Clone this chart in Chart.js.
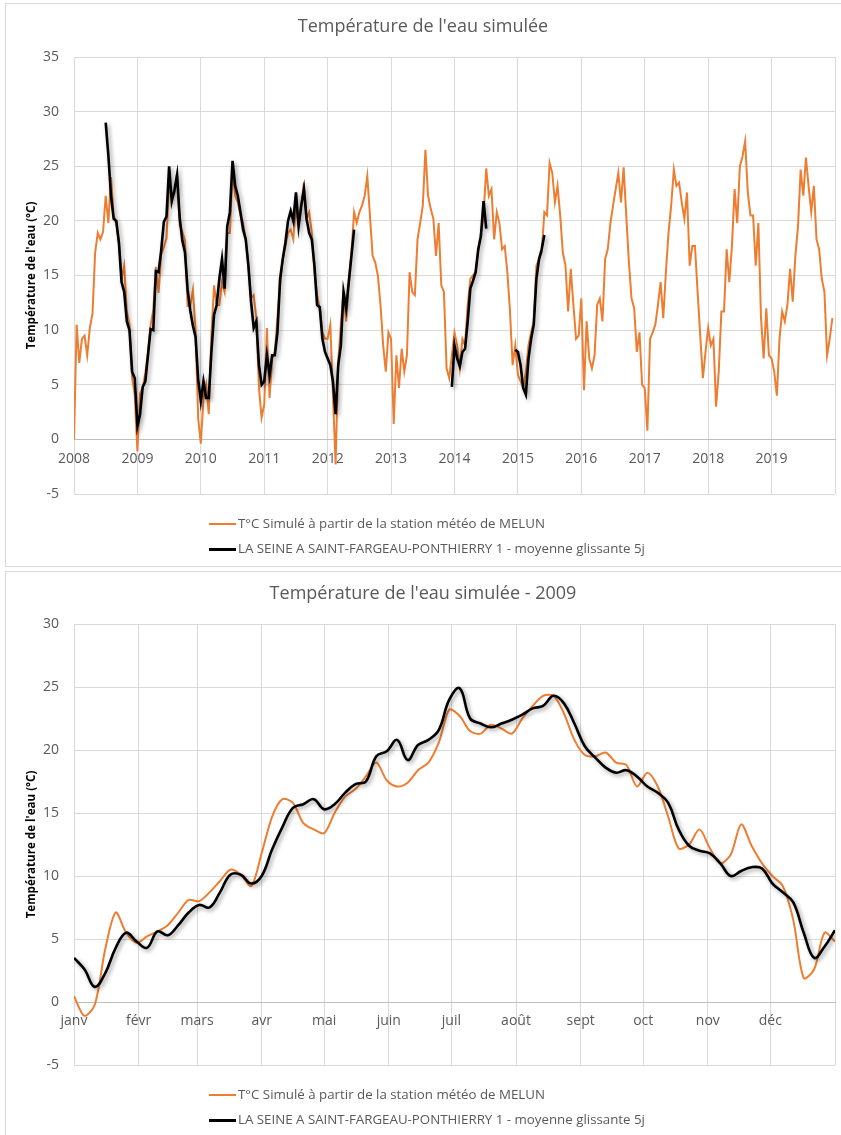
<!DOCTYPE html>
<html>
<head>
<meta charset="utf-8">
<script src="https://cdn.jsdelivr.net/npm/chart.js@4.4.1/dist/chart.umd.min.js"></script>
<style>
    body { margin: 0; background: #fff; width: 841px; height: 1135px; position: relative; overflow: hidden; font-family: 'Open Sans', sans-serif; }
    .frame { position: absolute; border: 1px solid #d9d9d9; box-sizing: border-box; }
    .box { position: absolute; left: 0; width: 846px; }
    .legend { position: absolute; left: 209px; top: 0; font-size: 13.3px; color: #595959; }
    .legend div { position: absolute; left: 0; white-space: nowrap; line-height: 18px; }
    .legend span { display: inline-block; width: 27px; vertical-align: middle; margin-right: 2px; }
</style>
</head>
<body>
<div class="box" style="top:0;height:567px"><canvas id="chartYears" width="846" height="567"></canvas></div>
<div class="box" style="top:570px;height:565px"><canvas id="chart2009" width="846" height="565"></canvas></div>
<div class="frame" style="left:5px;top:3px;width:840px;height:564px"></div>
<div class="frame" style="left:5px;top:571px;width:840px;height:568px"></div>
<div id="legendYears" class="legend"></div>
<div id="legend2009" class="legend"></div>

<script>
// Libellés des séries
const labelMelun = 'T°C Simulé à partir de la station météo de MELUN';
const labelSeine = 'LA SEINE A SAINT-FARGEAU-PONTHIERRY 1 - moyenne glissante 5j';

// Graphique 1 : 2008-2019, 24 valeurs par an (tous les ~15 jours)
const yearLabels = ['2008', '2009', '2010', '2011', '2012', '2013', '2014', '2015', '2016', '2017', '2018', '2019'];

const melun2008 = [0, 10.5, 7.0, 9.2, 9.5, 7.7, 10.2, 11.5, 17.1, 18.9, 18.3, 19.0, 22.3, 19.8, 24.0, 20.5, 19.8, 18.0, 14.7, 15.9, 11.7, 10.5, 5.6, 4.1];
const melun2009 = [-1.1, 4.2, 4.7, 6.1, 8.0, 10.5, 11.8, 15.8, 13.4, 16.9, 17.6, 18.4, 23.5, 22.0, 22.5, 24.3, 19.6, 19.0, 18.2, 12.2, 12.2, 13.7, 10.0, 1.9];
const melun2010 = [-0.4, 3.8, 5.0, 2.3, 9.5, 14.1, 12.3, 12.3, 14.4, 13.5, 18.9, 18.9, 24.7, 22.3, 21.7, 20.5, 19.8, 18.3, 15.9, 12.9, 13.2, 11.1, 4.7, 2.0];
const melun2011 = [3.2, 10.2, 3.8, 7.4, 8.0, 11.1, 14.1, 16.5, 17.7, 18.9, 19.2, 18.3, 21.4, 19.8, 21.4, 23.5, 20.2, 20.8, 18.9, 15.3, 13.2, 12.0, 9.8, 9.2];
const melun2012 = [9.2, 10.5, 4.1, -2.3, 7.1, 10.5, 13.6, 10.8, 14.7, 17.1, 20.8, 19.8, 20.8, 21.4, 22.3, 24.1, 20.5, 16.8, 16.2, 15.0, 12.3, 8.6, 6.2, 9.8];
const melun2013 = [9.2, 1.4, 7.7, 4.7, 8.3, 6.2, 7.7, 15.3, 13.5, 13.2, 18.3, 19.8, 21.4, 26.5, 22.3, 21.1, 20.2, 16.8, 19.8, 14.1, 13.5, 6.5, 5.6, 7.7];
const melun2014 = [9.8, 8.6, 6.5, 9.2, 8.6, 12.3, 14.7, 15.0, 15.3, 17.4, 18.9, 20.5, 24.8, 22.3, 22.9, 18.3, 20.8, 19.8, 17.4, 17.7, 15.3, 11.7, 6.8, 8.6];
const melun2015 = [5.9, 5.3, 4.7, 6.2, 8.6, 9.8, 10.8, 15.9, 16.5, 17.1, 20.8, 20.5, 25.3, 24.4, 21.7, 23.2, 20.5, 17.1, 15.9, 11.7, 15.6, 12.3, 9.2, 9.5];
const melun2016 = [12.9, 4.5, 10.8, 7.4, 6.5, 7.7, 12.3, 12.9, 10.8, 16.5, 17.4, 19.8, 21.4, 22.9, 24.4, 21.7, 24.9, 20.5, 16.2, 12.9, 12.0, 8.0, 9.8, 5.0];
const melun2017 = [4.7, 0.8, 9.2, 9.8, 10.5, 12.3, 14.4, 11.1, 15.3, 18.9, 21.4, 24.7, 23.2, 23.5, 21.7, 20.2, 22.6, 15.9, 17.7, 17.7, 13.5, 9.5, 5.6, 8.0];
const melun2018 = [10.2, 8.6, 9.2, 3.0, 6.2, 11.7, 11.7, 17.4, 14.4, 17.7, 22.9, 19.8, 25.0, 25.9, 27.3, 22.6, 20.5, 20.5, 15.9, 19.8, 11.1, 7.4, 12.0, 7.7];
const melun2019 = [7.4, 6.2, 4.0, 9.2, 11.7, 10.8, 12.3, 15.6, 12.6, 16.8, 19.5, 24.7, 22.3, 25.8, 23.2, 20.8, 23.2, 18.3, 17.4, 14.7, 13.5, 7.7, 9.2, 11.1];

const seine2008 = [null, null, null, null, null, null, null, null, null, null, null, null, 29.0, 26.0, 22.3, 20.2, 20.0, 18.0, 14.4, 13.5, 10.8, 10.0, 6.2, 5.6];
const seine2009 = [1.2, 2.3, 4.8, 5.3, 7.7, 10.1, 10.0, 15.4, 15.3, 17.3, 19.9, 20.4, 25.0, 21.8, 22.8, 24.2, 20.3, 18.2, 17.1, 13.7, 11.8, 10.4, 9.4, 5.5];
const seine2010 = [3.5, 5.3, 3.8, 3.8, 8.0, 11.4, 12.3, 14.7, 16.5, 13.8, 19.5, 20.8, 25.5, 23.2, 22.3, 20.8, 19.2, 18.3, 15.9, 12.6, 10.2, 10.8, 6.8, 5.0];
const seine2011 = [5.3, 7.7, 5.9, 7.7, 7.7, 9.8, 14.7, 16.5, 18.0, 20.0, 20.9, 20.0, 22.6, 19.5, 21.4, 22.9, 20.2, 18.9, 18.3, 15.9, 12.3, 12.1, 9.2, 8.0];
const seine2012 = [7.4, 6.8, 5.3, 2.3, 6.8, 8.6, 13.5, 12.0, 14.4, 16.8, 19.2, null, null, null, null, null, null, null, null, null, null, null, null, null];
const seine2013 = [null, null, null, null, null, null, null, null, null, null, null, null, null, null, null, null, null, null, null, null, null, null, null, 4.8];
const seine2014 = [8.6, 7.4, 6.7, 8.0, 8.3, 10.8, 13.8, 14.5, 15.3, 17.4, 18.6, 21.8, 19.3, null, null, null, null, null, null, null, null, null, null, 8.2];
const seine2015 = [8.0, 6.8, 4.7, 4.1, 7.4, 9.2, 10.5, 14.7, 16.5, 17.4, 18.7, null, null, null, null, null, null, null, null, null, null, null, null, null];

// Graphique 2 : année 2009, une valeur tous les 5 jours
const monthLabels = ['janv', 'févr', 'mars', 'avr', 'mai', 'juin', 'juil', 'août', 'sept', 'oct', 'nov', 'déc'];
const monthStartDays = [0, 31, 59, 90, 120, 151, 181, 212, 243, 273, 304, 334, 365];

const melunDaily2009 = [0.45, -1.1, -0.2, 4.2, 7.1, 5.5, 4.7, 5.2, 5.6, 6.1, 7.1, 8.1, 8.0, 8.7, 9.6, 10.5, 10.1, 9.2, 11.8, 14.7,
    16.1, 15.8, 14.2, 13.7, 13.4, 15.0, 16.3, 16.9, 17.9, 19.0, 17.6, 17.1, 17.4, 18.4, 19.0, 20.6, 23.2, 22.7, 21.5, 21.3,
    22.0, 21.7, 21.3, 22.5, 23.5, 24.3, 24.3, 22.9, 20.8, 19.6, 19.5, 19.8, 19.0, 18.8, 17.1, 18.2, 17.1, 14.7, 12.2, 12.5,
    13.7, 12.2, 11.0, 11.7, 14.1, 12.4, 11.0, 10.0, 9.2, 6.5, 1.9, 2.6, 5.5, 4.8];
const seineDaily2009 = [3.5, 2.6, 1.2, 2.3, 4.3, 5.5, 4.8, 4.3, 5.6, 5.3, 6.1, 7.1, 7.7, 7.5, 8.7, 10.1, 10.1, 9.4, 10.0, 12.1,
    13.9, 15.4, 15.7, 16.1, 15.3, 15.7, 16.6, 17.3, 17.5, 19.5, 19.9, 20.8, 19.2, 20.4, 20.8, 21.6, 24.0, 24.9, 22.5, 22.1,
    21.8, 22.1, 22.4, 22.8, 23.3, 23.5, 24.3, 23.7, 22.1, 20.3, 19.4, 18.6, 18.2, 18.4, 17.9, 17.1, 16.6, 15.8, 13.7, 12.4,
    12.0, 11.8, 11.0, 10.0, 10.4, 10.7, 10.6, 9.4, 8.7, 7.9, 5.5, 3.5, 4.4, 5.7];

const melunYears = [melun2008, melun2009, melun2010, melun2011, melun2012, melun2013, melun2014, melun2015, melun2016, melun2017, melun2018, melun2019];
const seineYears = [seine2008, seine2009, seine2010, seine2011, seine2012, seine2013, seine2014, seine2015];

const orange = '#ed7d31';
const gridColor = '#d9d9d9';
const textColor = '#595959';

// Ombre portée sous la courbe noire (comme dans Excel)
const shadowPlugin = {
    id: 'lineShadow',
    beforeDatasetDraw(chart, args) {
        if (!chart.data.datasets[args.index].shadow) return;
        const ctx = chart.ctx;
        ctx.save();
        ctx.shadowColor = 'rgba(0, 0, 0, 0.4)';
        ctx.shadowBlur = 4;
        ctx.shadowOffsetX = 2;
        ctx.shadowOffsetY = 2;
    },
    afterDatasetDraw(chart, args) {
        if (chart.data.datasets[args.index].shadow) chart.ctx.restore();
    }
};

// Convertit les tableaux annuels en points {x: année décimale, y}
function yearlyPoints(arrays) {
    const points = [];
    arrays.forEach((values, y) => {
        values.forEach((v, i) => points.push({ x: 2008 + y + i / 24, y: v }));
    });
    return points;
}

function dailyPoints(values) {
    return values.map((v, i) => ({ x: i * 5, y: v }));
}

// Options communes aux deux graphiques
function buildOptions(title, titlePadding, yMax, bottomPadding, xOptions) {
    return {
        responsive: false,
        animation: false,
        layout: { padding: { left: 0, right: 0, top: 0, bottom: bottomPadding } },
        elements: { point: { radius: 0 } },
        plugins: {
            legend: { display: false },
            tooltip: { enabled: false },
            title: {
                display: true,
                text: title,
                color: textColor,
                font: { family: 'Open Sans', size: 18, weight: 'normal' },
                padding: titlePadding
            }
        },
        scales: {
            x: Object.assign({
                type: 'linear',
                position: { y: 0 },
                border: { color: '#bfbfbf' },
                grid: { color: gridColor, drawTicks: false },
            }, xOptions),
            y: {
                min: -5,
                max: yMax,
                afterFit: function (scale) { scale.width = 74; },
                border: { display: false },
                grid: { color: gridColor, drawTicks: false },
                ticks: {
                    stepSize: 5,
                    padding: 15,
                    color: textColor,
                    font: { family: 'Open Sans', size: 14 }
                },
                title: {
                    display: true,
                    text: "Température de l'eau (°C)",
                    color: '#000',
                    font: { family: 'Open Sans', size: 11.6, weight: 'bold' },
                    padding: { top: 25, bottom: 0 }
                }
            }
        }
    };
}

// Légende HTML verticale sous le graphique
function buildLegend(chart, containerId, rowTops) {
    const box = document.getElementById(containerId);
    chart.data.datasets.forEach((ds, i) => {
        const row = document.createElement('div');
        row.style.top = rowTops[i] + 'px';
        row.innerHTML = `<span style="background:${ds.borderColor};height:${ds.borderWidth}px"></span>${ds.label}`;
        box.appendChild(row);
    });
}

const chartYears = new Chart(document.getElementById('chartYears'), {
    type: 'line',
    data: {
        datasets: [{
            label: labelMelun,
            data: yearlyPoints(melunYears),
            borderColor: orange,
            borderWidth: 2,
            order: 2
        }, {
            label: labelSeine,
            data: yearlyPoints(seineYears),
            borderColor: '#000',
            borderWidth: 2.6,
            spanGaps: false,
            shadow: true,
            order: 1
        }]
    },
    options: buildOptions("Température de l'eau simulée", { top: 16.2, bottom: 19.2 }, 35, 73, {
        min: 2008,
        max: 2020,
        ticks: {
            stepSize: 1,
            padding: 11,
            maxRotation: 0,
            color: textColor,
            font: { family: 'Open Sans', size: 14 },
            callback: (v) => yearLabels[v - 2008] || ''
        }
    }),
    plugins: [shadowPlugin]
});

const chart2009 = new Chart(document.getElementById('chart2009'), {
    type: 'line',
    data: {
        datasets: [{
            label: labelMelun,
            data: dailyPoints(melunDaily2009),
            borderColor: orange,
            borderWidth: 2,
            tension: 0.3,
            order: 2
        }, {
            label: labelSeine,
            data: dailyPoints(seineDaily2009),
            borderColor: '#000',
            borderWidth: 2.6,
            tension: 0.4,
            shadow: true,
            order: 1
        }]
    },
    options: buildOptions("Température de l'eau simulée - 2009", { top: 13.2, bottom: 19.2 }, 30, 70, {
        min: 0,
        max: 365,
        afterBuildTicks: function (scale) {
            scale.ticks = monthStartDays.map(d => ({ value: d }));
        },
        ticks: {
            padding: 11,
            maxRotation: 0,
            autoSkip: false,
            color: textColor,
            font: { family: 'Open Sans', size: 14 },
            callback: (v) => monthLabels[monthStartDays.indexOf(v)] || ''
        }
    }),
    plugins: [shadowPlugin]
});

buildLegend(chartYears, 'legendYears', [514, 539]);
buildLegend(chart2009, 'legend2009', [1085, 1110]);
</script>
</body>
</html>
